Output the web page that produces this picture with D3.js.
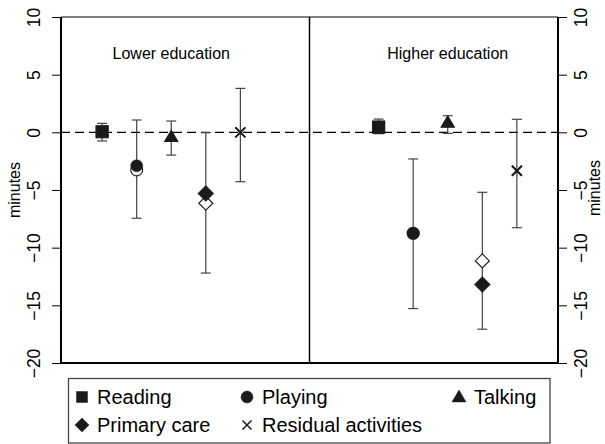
<!DOCTYPE html>
<html>
<head>
<meta charset="utf-8">
<script src="https://cdn.jsdelivr.net/npm/d3@7"></script>
<style>
  body { margin: 0; background: #fff; }
  svg { display: block; font-family: "Liberation Sans", Arial, Helvetica, sans-serif; }
</style>
</head>
<body>
<script>
// panels and activities
var groups = ["Lower education", "Higher education"];
var activities = ["Reading", "Playing", "Talking", "Primary care", "Residual activities"];
var shapes = ["square", "circle", "triangle", "diamond", "cross"];

// estimates (filled) and alternative estimates (hollow), minutes
var estLower = [0.05, -2.9, -0.4, -5.3, 0.0];
var altLower = [0.05, -3.25, -0.4, -6.15, 0.0];
var ciLowLower = [-0.75, -7.45, -1.97, -12.2, -4.28];
var ciHighLower = [0.78, 1.07, 0.98, -0.03, 3.81];

var estHigher = [0.45, -8.75, 0.85, -13.2, -3.33];
var altHigher = [0.45, -8.75, 0.85, -11.15, -3.33];
var ciLowHigher = [-0.12, -15.28, -0.09, -17.07, -8.27];
var ciHighHigher = [1.15, -2.31, 1.44, -5.2, 1.13];

var yTicks = [10, 5, 0, -5, -10, -15, -20];

var width = 605, height = 444;
var margin = { top: 17, right: 47, bottom: 81, left: 61 };

var svg = d3.select("body").append("svg")
    .attr("width", width)
    .attr("height", height);

// x: activity slots 1..5 on the left, 9..13 on the right, divider at 7
var x = d3.scaleLinear()
    .domain([-0.19, 14.19])
    .range([margin.left, width - margin.right]);

var y = d3.scaleLinear()
    .domain([-20, 10])
    .range([height - margin.bottom, margin.top]);

var rows = [];
var tables = [
    [estLower, altLower, ciLowLower, ciHighLower],
    [estHigher, altHigher, ciLowHigher, ciHighHigher]
];
tables.forEach(function(t, g) {
    activities.forEach(function(a, i) {
        rows.push({ group: g, name: a, shape: shapes[i], pos: g * 8 + i + 1,
            est: t[0][i], alt: t[1][i], lo: t[2][i], hi: t[3][i] });
    });
});

// marker path generator, s = full width
function markerPath(shape, s) {
    var h = s / 2;
    if (shape == "square") return "M" + (-h) + "," + (-h) + "h" + s + "v" + s + "h" + (-s) + "Z";
    if (shape == "circle") return "M" + h + ",0A" + h + "," + h + " 0 1,1 " + (-h) + ",0A" + h + "," + h + " 0 1,1 " + h + ",0Z";
    if (shape == "diamond") return "M0," + (-h) + "L" + h + ",0L0," + h + "L" + (-h) + ",0Z";
    if (shape == "triangle") return "M0," + (-s * 0.5) + "L" + h + "," + (s * 0.35) + "L" + (-h) + "," + (s * 0.35) + "Z";
    // cross
    return "M" + (-h) + "," + (-h) + "L" + h + "," + h + "M" + h + "," + (-h) + "L" + (-h) + "," + h;
}
var markerSize = { square: 12, circle: 12, triangle: 13, diamond: 16, cross: 10 };

// zero line
svg.append("line")
    .attr("x1", x.range()[0]).attr("x2", x.range()[1])
    .attr("y1", y(0)).attr("y2", y(0))
    .style("stroke", "#000")
    .style("stroke-width", 1.2)
    .style("stroke-dasharray", "9,5");

// error bars
var bars = svg.append("g").selectAll("g").data(rows).enter().append("g")
    .style("stroke", "#444")
    .style("stroke-width", 1.2);
bars.append("line")
    .attr("x1", function(d) { return x(d.pos); })
    .attr("x2", function(d) { return x(d.pos); })
    .attr("y1", function(d) { return y(d.lo); })
    .attr("y2", function(d) { return y(d.hi); });
bars.append("line")
    .attr("x1", function(d) { return x(d.pos) - 5; })
    .attr("x2", function(d) { return x(d.pos) + 5; })
    .attr("y1", function(d) { return y(d.lo); })
    .attr("y2", function(d) { return y(d.lo); });
bars.append("line")
    .attr("x1", function(d) { return x(d.pos) - 5; })
    .attr("x2", function(d) { return x(d.pos) + 5; })
    .attr("y1", function(d) { return y(d.hi); })
    .attr("y2", function(d) { return y(d.hi); });

// hollow markers (behind)
svg.append("g").selectAll("path").data(rows).enter().append("path")
    .attr("transform", function(d) { return "translate(" + x(d.pos) + "," + y(d.alt) + ")"; })
    .attr("d", function(d) { return markerPath(d.shape, d.shape == "diamond" ? 14 : markerSize[d.shape]); })
    .style("fill", function(d) { return d.shape == "cross" ? "none" : "#fff"; })
    .style("stroke", "#222")
    .style("stroke-width", 1.2);

// filled markers
svg.append("g").selectAll("path").data(rows).enter().append("path")
    .attr("transform", function(d) { return "translate(" + x(d.pos) + "," + y(d.est) + ")"; })
    .attr("d", function(d) { return markerPath(d.shape, markerSize[d.shape]); })
    .style("fill", function(d) { return d.shape == "cross" ? "none" : "#1a1a1a"; })
    .style("stroke", "#1a1a1a")
    .style("stroke-width", function(d) { return d.shape == "cross" ? 2 : 0.5; });

// frame and divider
var x0 = x.range()[0], x1 = x.range()[1], yT = y(10), yB = y(-20);
svg.append("line").attr("x1", x0).attr("x2", x1).attr("y1", yT).attr("y2", yT)
    .style("stroke", "#000").style("stroke-width", 1.2);
svg.append("line").attr("x1", x0 - 1).attr("x2", x1 + 1).attr("y1", yB).attr("y2", yB)
    .style("stroke", "#000").style("stroke-width", 2);
[x0, x1].forEach(function(v) {
    svg.append("line").attr("x1", v).attr("x2", v).attr("y1", yT).attr("y2", yB)
        .style("stroke", "#000").style("stroke-width", 2);
});
svg.append("line").attr("x1", x(7)).attr("x2", x(7)).attr("y1", yT).attr("y2", yB)
    .style("stroke", "#000").style("stroke-width", 1.5);

// panel titles
groups.forEach(function(g, i) {
    svg.append("text")
        .attr("x", x(i * 8 + 3))
        .attr("y", 58.5)
        .attr("text-anchor", "middle")
        .style("font-size", "16px")
        .text(g);
});

// y axes, both sides, rotated labels
function fmt(v) { return v < 0 ? "\u2212" + Math.abs(v) : String(v); }

var yAxisL = svg.append("g")
    .attr("transform", "translate(" + x0 + ",0)")
    .call(d3.axisLeft(y).tickValues(yTicks).tickSize(9).tickFormat(fmt));
var yAxisR = svg.append("g")
    .attr("transform", "translate(" + x1 + ",0)")
    .call(d3.axisRight(y).tickValues(yTicks).tickSize(9).tickFormat(fmt));

[yAxisL, yAxisR].forEach(function(ax, k) {
    ax.select(".domain").remove();
    ax.selectAll(".tick line").style("stroke", "#000").style("stroke-width", 1);
    ax.selectAll(".tick text")
        .attr("x", null).attr("dy", null)
        .attr("transform", k == 0 ? "translate(-21,0) rotate(-90)" : "translate(29,0) rotate(-90)")
        .attr("text-anchor", "middle")
        .style("font-family", "'Liberation Sans', Arial, sans-serif")
        .style("font-size", "17.5px")
        .style("fill", "#000");
});

// axis titles
[[20, 190], [600, 188]].forEach(function(p) {
    svg.append("text")
        .attr("transform", "translate(" + p[0] + "," + p[1] + ") rotate(-90)")
        .attr("text-anchor", "middle")
        .style("font-size", "16px")
        .text("minutes");
});

// legend
var legend = svg.append("g");
legend.append("rect")
    .attr("x", 68.5).attr("y", 378.5)
    .attr("width", 481.5).attr("height", 64.5)
    .style("fill", "#fff")
    .style("stroke", "#444")
    .style("stroke-width", 1.3);

var legendCols = [82, 247, 459];
var legendRows = [397, 425];
var legendSize = { square: 11, circle: 12, triangle: 14, diamond: 14, cross: 9 };
activities.forEach(function(a, i) {
    var cx = legendCols[i % 3], cy = legendRows[Math.floor(i / 3)];
    legend.append("path")
        .attr("transform", "translate(" + cx + "," + cy + ")")
        .attr("d", markerPath(shapes[i], legendSize[shapes[i]]))
        .style("fill", shapes[i] == "cross" ? "none" : "#1a1a1a")
        .style("stroke", "#1a1a1a")
        .style("stroke-width", shapes[i] == "cross" ? 1.5 : 0.5);
    legend.append("text")
        .attr("x", cx + 15)
        .attr("y", cy + 7)
        .style("font-size", "20px")
        .text(a);
});
</script>
</body>
</html>
